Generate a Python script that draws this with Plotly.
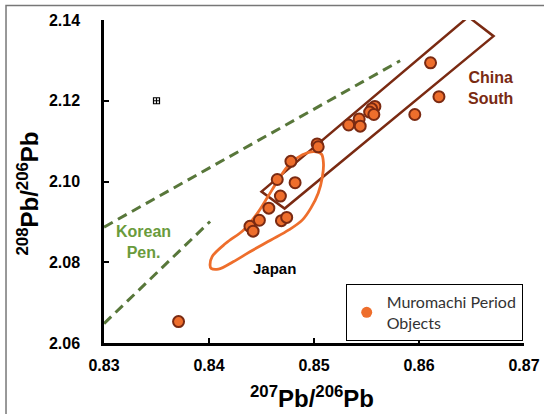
import plotly.graph_objects as go

# Muromachi period objects: lead isotope ratios
pb207_206 = [0.8611, 0.8619, 0.8596, 0.8558, 0.8555, 0.8553, 0.8557, 0.8543,
             0.8533, 0.8544, 0.8503, 0.8504, 0.8478, 0.8465, 0.8482, 0.8468,
             0.8457, 0.8448, 0.8469, 0.8474, 0.8439, 0.8442, 0.8371]
pb208_206 = [2.1294, 2.1210, 2.1166, 2.1186, 2.1180, 2.1172, 2.1166, 2.1155,
             2.1140, 2.1137, 2.1093, 2.1086, 2.1050, 2.1005, 2.0997, 2.0964,
             2.0934, 2.0904, 2.0903, 2.0911, 2.0889, 2.0877, 2.0653]

# Measurement error indicator
err_x = [0.835]
err_y = [2.120]

# Korean Peninsula boundary lines
korea_upper_x = [0.8300, 0.8582]
korea_upper_y = [2.0887, 2.1299]
korea_lower_x = [0.8300, 0.8401]
korea_lower_y = [2.0648, 2.0901]

# South China field (closed polygon)
china_x = [0.8647, 0.8671, 0.8472, 0.8450, 0.8647]
china_y = [2.1408, 2.1360, 2.0933, 2.0975, 2.1408]

# Japan field (closed loop)
japan_x = [0.8401, 0.8403, 0.8416, 0.8433, 0.8446, 0.8456, 0.8466, 0.8476,
           0.8489, 0.8500, 0.8507, 0.8509, 0.8508, 0.8504, 0.8497, 0.8489,
           0.8476, 0.8459, 0.8439, 0.8423, 0.8409, 0.8402, 0.8401]
japan_y = [2.0793, 2.0814, 2.0847, 2.0880, 2.0921, 2.0962, 2.1004, 2.1041,
           2.1066, 2.1074, 2.1068, 2.1045, 2.1012, 2.0971, 2.0934, 2.0905,
           2.0880, 2.0855, 2.0826, 2.0801, 2.0783, 2.0785, 2.0793]

x_ticks = [0.83, 0.84, 0.85, 0.86, 0.87]
y_ticks = [2.06, 2.08, 2.10, 2.12, 2.14]

ORANGE = "#EE6E2C"
BROWN = "#7A2A12"
GREEN = "#58773A"
LABEL_GREEN = "#6A9B3C"
FONT = "Liberation Sans"

fig = go.Figure()

for xs, ys in [(korea_upper_x, korea_upper_y), (korea_lower_x, korea_lower_y)]:
    fig.add_trace(go.Scatter(x=xs, y=ys, mode="lines", showlegend=False,
                             line=dict(color=GREEN, width=3, dash="10px,6px"),
                             hoverinfo="skip"))

fig.add_trace(go.Scatter(x=china_x, y=china_y, mode="lines", showlegend=False,
                         line=dict(color=BROWN, width=2.5), hoverinfo="skip"))

fig.add_trace(go.Scatter(x=japan_x, y=japan_y, mode="lines", showlegend=False,
                         line=dict(color=ORANGE, width=2.8, shape="spline",
                                   smoothing=1.0),
                         hoverinfo="skip"))

fig.add_trace(go.Scatter(x=pb207_206, y=pb208_206, mode="markers",
                         showlegend=False,
                         marker=dict(size=11, color=ORANGE,
                                     line=dict(color=BROWN, width=2))))

fig.add_trace(go.Scatter(x=err_x, y=err_y, mode="markers", showlegend=False,
                         marker=dict(symbol="square-cross-open", size=6,
                                     color="black", line=dict(width=1.2))))

# Legend entry
fig.add_trace(go.Scatter(x=[None], y=[None], mode="markers",
                         name="Muromachi Period<br>Objects",
                         marker=dict(size=11, color=ORANGE)))

annotations = [
    dict(x=0.8668, y=2.1232, xref="x", yref="y", text="China<br>South",
         showarrow=False, font=dict(family=FONT, size=16, color=BROWN, weight=700)),
    dict(x=0.8338, y=2.0849, xref="x", yref="y", text="Korean<br>Pen.",
         showarrow=False, font=dict(family=FONT, size=16, color=LABEL_GREEN, weight=700)),
    dict(x=0.8462, y=2.0785, xref="x", yref="y", text="Japan",
         showarrow=False, font=dict(family=FONT, size=15, color="black", weight=700)),
    dict(x=0.4952, y=-0.1663, xref="paper", yref="paper",
         xanchor="center", yanchor="middle",
         text="<sup>207</sup>Pb/<sup>206</sup>Pb", showarrow=False,
         font=dict(family=FONT, size=24, color="black", weight=700)),
    dict(x=-0.1821, y=0.4613, xref="paper", yref="paper", textangle=-90,
         xanchor="center", yanchor="middle",
         text="<sup>208</sup>Pb/<sup>206</sup>Pb", showarrow=False,
         font=dict(family=FONT, size=24, color="black", weight=700)),
]

axis_common = dict(showgrid=False, zeroline=False, showline=True,
                   linecolor="black", linewidth=2.5, ticks="inside",
                   ticklen=5, tickwidth=2, tickcolor="black", mirror=False,
                   tickfont=dict(family=FONT, size=16, color="black", weight=700))

fig.update_layout(
    width=544, height=414,
    margin=dict(l=104, r=20, t=20, b=71, autoexpand=False),
    paper_bgcolor="white", plot_bgcolor="white",
    xaxis=dict(range=[0.83, 0.87], tickvals=x_ticks,
               ticktext=[f"{v:.2f}" for v in x_ticks],
               ticklabelstandoff=6, **axis_common),
    yaxis=dict(range=[2.06, 2.14], tickvals=y_ticks,
               ticktext=[f"{v:.2f}" for v in y_ticks],
               ticklabelstandoff=18, **axis_common),
    legend=dict(x=0.5755, y=0.1827, xanchor="left", yanchor="top",
                bordercolor="black", borderwidth=1, bgcolor="white",
                font=dict(family="Lato", size=16, color="#333333")),
    annotations=annotations,
    shapes=[dict(type="path", xref="paper", yref="paper",
                 path="M -0.2333,-0.3 L -0.2333,1.0449 L 1.2,1.0449",
                 line=dict(color="#777777", width=1.5))],
)

fig.write_html("out.html")
